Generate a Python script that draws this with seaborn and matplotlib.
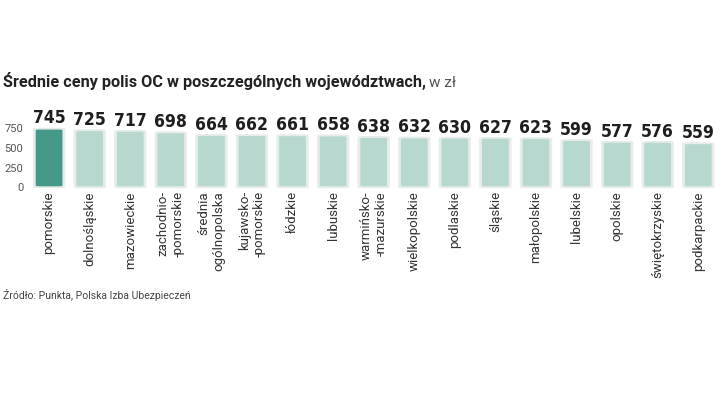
import numpy as np
import pandas as pd
import matplotlib
matplotlib.use("Agg")
import matplotlib.pyplot as plt
from matplotlib.patches import FancyBboxPatch
from matplotlib import font_manager
import seaborn as sns

# data
regions = ["pomorskie", "dolnośląskie", "mazowieckie", "zachodnio-\n-pomorskie",
           "średnia\nogólnopolska", "kujawsko-\n-pomorskie", "łódzkie", "lubuskie",
           "warmińsko-\n-mazurskie", "wielkopolskie", "podlaskie", "śląskie",
           "małopolskie", "lubelskie", "opolskie", "świętokrzyskie", "podkarpackie"]
prices = [745, 725, 717, 698, 664, 662, 661, 658, 638, 632, 630, 627, 623, 599, 577, 576, 559]
yticks = [0, 250, 500, 750]

df = pd.DataFrame({"region": regions, "price": prices})

sns.set_theme(style="white")
plt.rcParams["font.family"] = ["Roboto", "DejaVu Sans"]

# condensed face for the value labels, if there is one
cond = None
for f in font_manager.fontManager.ttflist:
    if "Condensed" in f.fname and "Bold" in f.fname and "Oblique" not in f.fname:
        cond = f.fname
        if "DejaVu" in f.fname:
            break
val_font = font_manager.FontProperties(fname=cond, size=12.6) if cond else \
    font_manager.FontProperties(family="Roboto", weight="bold", size=11.5)

fig = plt.figure(figsize=(7.2, 4.05), dpi=100)
ax = fig.add_axes([0.040, 0.538, 0.958, 0.147])

colors = {"main": "#449988", "light": "#b7d8cf", "edge": "#e6ecea", "shadow": "#ebedec"}
palette = [colors["main"]] + [colors["light"]] * (len(regions) - 1)

sns.barplot(data=df, x="region", y="price", hue="region", palette=palette,
            legend=False, width=0.7, saturation=1, ax=ax)

# swap plain bars for rounded ones with a soft shadow
for p in list(ax.patches):
    x, y, w, h = p.get_x(), p.get_y(), p.get_width(), p.get_height()
    fc = p.get_facecolor()
    p.remove()
    sh = FancyBboxPatch((x - 0.05, y - 14), w + 0.1, h + 26,
                        boxstyle="round,pad=0,rounding_size=0.12",
                        mutation_aspect=110, fc=colors["shadow"], ec="none",
                        zorder=1, clip_on=False)
    ax.add_patch(sh)
    bb = FancyBboxPatch((x, y), w, h, boxstyle="round,pad=0,rounding_size=0.1",
                        mutation_aspect=110, fc=fc, ec=colors["edge"], lw=1.2,
                        zorder=2, clip_on=False)
    ax.add_patch(bb)

for i, v in enumerate(prices):
    ax.text(i, v + 16, str(v), ha="center", va="bottom", fontproperties=val_font,
            color="#1e1e1e")

ax.set_xlim(-0.5, len(regions) - 0.5)
ax.set_ylim(0, 760)
ax.set_yticks(yticks)
ax.set_yticklabels([str(t) for t in yticks], fontsize=8, color="#555555")
ax.tick_params(axis="y", length=0, pad=4)
ax.tick_params(axis="x", length=0, pad=3)
ax.set_xticks(range(len(regions)))
ax.set_xticklabels(regions, rotation=90, fontsize=9.5, color="#333333",
                   va="top", ha="center", multialignment="right")
ax.set_xlabel("")
ax.set_ylabel("")
for s in ax.spines.values():
    s.set_visible(False)
ax.set_facecolor("none")

t1 = fig.text(0.004, 0.785, "Średnie ceny polis OC w poszczególnych województwach,",
              fontsize=11.7, fontweight="bold", color="#222222", va="baseline")
fig.canvas.draw()
bb1 = t1.get_window_extent().transformed(fig.transFigure.inverted())
fig.text(bb1.x1 + 0.005, 0.785, "w zł", fontsize=11, color="#555555",
         va="baseline")
fig.text(0.004, 0.262, "Źródło: Punkta, Polska Izba Ubezpieczeń", fontsize=7.5,
         color="#444444", va="baseline")

fig.savefig("out.png", dpi=100, facecolor="white")
